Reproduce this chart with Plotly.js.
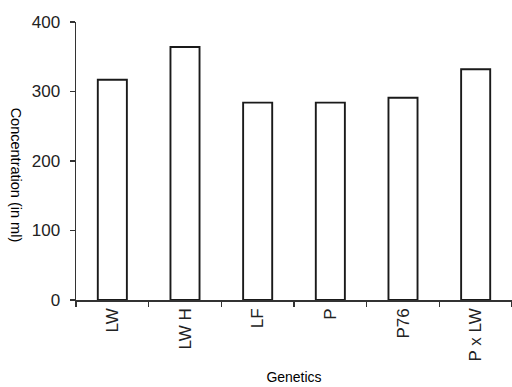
<!DOCTYPE html>
<html>
<head>
<meta charset="utf-8">
<script src="https://cdn.plot.ly/plotly-3.0.1.min.js"></script>
<style>html,body{margin:0;padding:0;background:#fff;}#chart{width:512px;height:387px;}</style>
</head>
<body>
<div id="chart"></div>
<script>
var categories = ["LW", "LW H", "LF", "P", "P76", "P x LW"];
var concentration = [317, 364, 284, 284, 291, 332];
var yTickValues = [0, 100, 200, 300, 400];

var fontFamily = "Liberation Sans, Arial, sans-serif";

var trace = {
  type: "bar",
  x: categories,
  y: concentration,
  width: 0.4,
  marker: {color: "#ffffff", line: {color: "#1a1a1a", width: 1.9}},
  hoverinfo: "x+y"
};

var layout = {
  width: 512,
  height: 387,
  margin: {l: 76, r: 0, t: 22, b: 87, pad: 0},
  paper_bgcolor: "#ffffff",
  plot_bgcolor: "#ffffff",
  showlegend: false,
  font: {family: fontFamily, color: "#222222"},
  xaxis: {
    type: "category",
    range: [-0.5, 5.5],
    showline: true,
    linecolor: "#333333",
    linewidth: 1.5,
    showgrid: false,
    zeroline: false,
    ticks: "outside",
    tickson: "boundaries",
    ticklen: 5,
    tickwidth: 1.2,
    tickcolor: "#333333",
    tickangle: -90,
    tickfont: {size: 17, color: "#222222", family: fontFamily},
    title: {text: "Genetics", font: {size: 14, color: "#000000", family: fontFamily}, standoff: 11},
    automargin: false
  },
  yaxis: {
    range: [0, 400],
    tickvals: yTickValues,
    ticktext: yTickValues.map(String),
    showline: true,
    linecolor: "#333333",
    linewidth: 1.5,
    showgrid: false,
    zeroline: false,
    ticks: "outside",
    ticklen: 5,
    tickwidth: 1.2,
    tickcolor: "#333333",
    ticklabelstandoff: 6,
    tickfont: {size: 17, color: "#222222", family: fontFamily},
    automargin: false
  },
  annotations: [{
    text: "Concentration (in ml)",
    xref: "paper", yref: "paper",
    x: -0.137, y: 0.45,
    xanchor: "center", yanchor: "middle",
    textangle: 90,
    showarrow: false,
    font: {size: 14.5, color: "#000000", family: fontFamily}
  }]
};

Plotly.newPlot("chart", [trace], layout, {displayModeBar: false, staticPlot: true});
</script>
</body>
</html>
